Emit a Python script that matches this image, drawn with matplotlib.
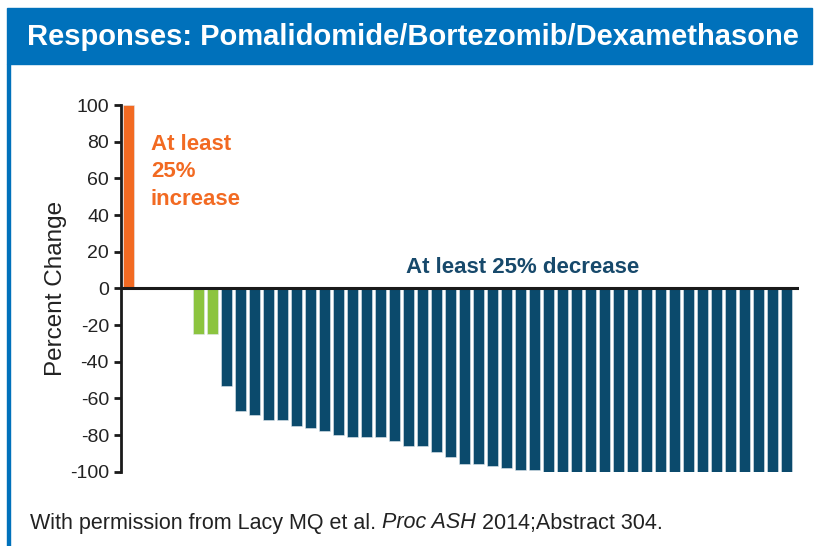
import matplotlib.pyplot as plt
from matplotlib.patches import Rectangle

plt.rcParams['font.family'] = ['Liberation Sans', 'DejaVu Sans']
plt.rcParams['axes.unicode_minus'] = False

title = 'Responses: Pomalidomide/Bortezomib/Dexamethasone'
increase = [100]
stable = [0, 0, 0, 0]
minor = [-25, -25]
decrease = [-53, -67, -69, -72, -72, -75, -76, -78, -80, -81, -81, -81,
            -83, -86, -86, -89, -92, -96, -96, -97, -98, -99, -99] + [-100] * 18
yticks = [100, 80, 60, 40, 20, 0, -20, -40, -60, -80, -100]

c_header = '#0071BB'
c_orange = '#F26A22'
c_green = '#8CC43F'
c_blue = '#0B4A6C'

values = increase + stable + minor + decrease
colors = ([c_orange] * len(increase) + ['white'] * len(stable)
          + [c_green] * len(minor) + [c_blue] * len(decrease))

fig = plt.figure(figsize=(8.17, 5.46), dpi=100)

# frame: header banner + left rule
fig.patches.append(Rectangle((7 / 817, 1 - 64 / 546), 805 / 817, 56 / 546,
                             transform=fig.transFigure, color=c_header, zorder=0))
fig.patches.append(Rectangle((7 / 817, 0), 3 / 817, 1 - 64 / 546,
                             transform=fig.transFigure, color=c_header, zorder=0))
fig.text(27 / 817, 1 - 37 / 546, title, color='white', fontsize=21,
         fontweight='bold', ha='left', va='center')

ax = fig.add_axes([120.7 / 817, 1 - 471.7 / 546, (799 - 120.7) / 817, (471.7 - 105) / 546])
x = list(range(len(values)))
ax.bar(x, values, width=0.78, color=colors, edgecolor='#dfe8ee', linewidth=0.4, zorder=2)
ax.axhline(0, color='#1a1a1a', linewidth=2.2, zorder=3)

ax.set_xlim(-0.55, 47.9)
ax.set_ylim(-100, 100)
ax.set_yticks(yticks)
ax.set_xticks([])
for s in ['top', 'right', 'bottom']:
    ax.spines[s].set_visible(False)
ax.spines['left'].set_linewidth(2)
ax.spines['left'].set_color('#1a1a1a')
ax.tick_params(axis='y', length=5, width=2, color='#1a1a1a', labelsize=14,
               labelcolor='#222222', pad=3.5)
ax.set_ylabel('Percent Change', fontsize=17.5, color='#222222', labelpad=2)

ax.text(1.6, 63.5, 'At least\n25%\nincrease', color=c_orange, fontsize=16,
        fontweight='bold', ha='left', va='center', linespacing=1.38)
ax.text(19.8, 11.4, 'At least 25% decrease', color='#17496B', fontsize=16,
        fontweight='bold', ha='left', va='center')

# footnote with italic journal name
fig.canvas.draw()
r = fig.canvas.get_renderer()
parts = [('With permission from Lacy MQ et al. ', 'normal'), ('Proc ASH', 'italic'),
         (' 2014;Abstract 304.', 'normal')]
xp = 30 / 817
for s, st in parts:
    t = fig.text(xp, 1 - 523 / 546, s, fontsize=15.5, style=st, color='#222222',
                 ha='left', va='center')
    bb = t.get_window_extent(renderer=r)
    xp = bb.x1 / fig.bbox.width

fig.savefig('out.png', dpi=100)
